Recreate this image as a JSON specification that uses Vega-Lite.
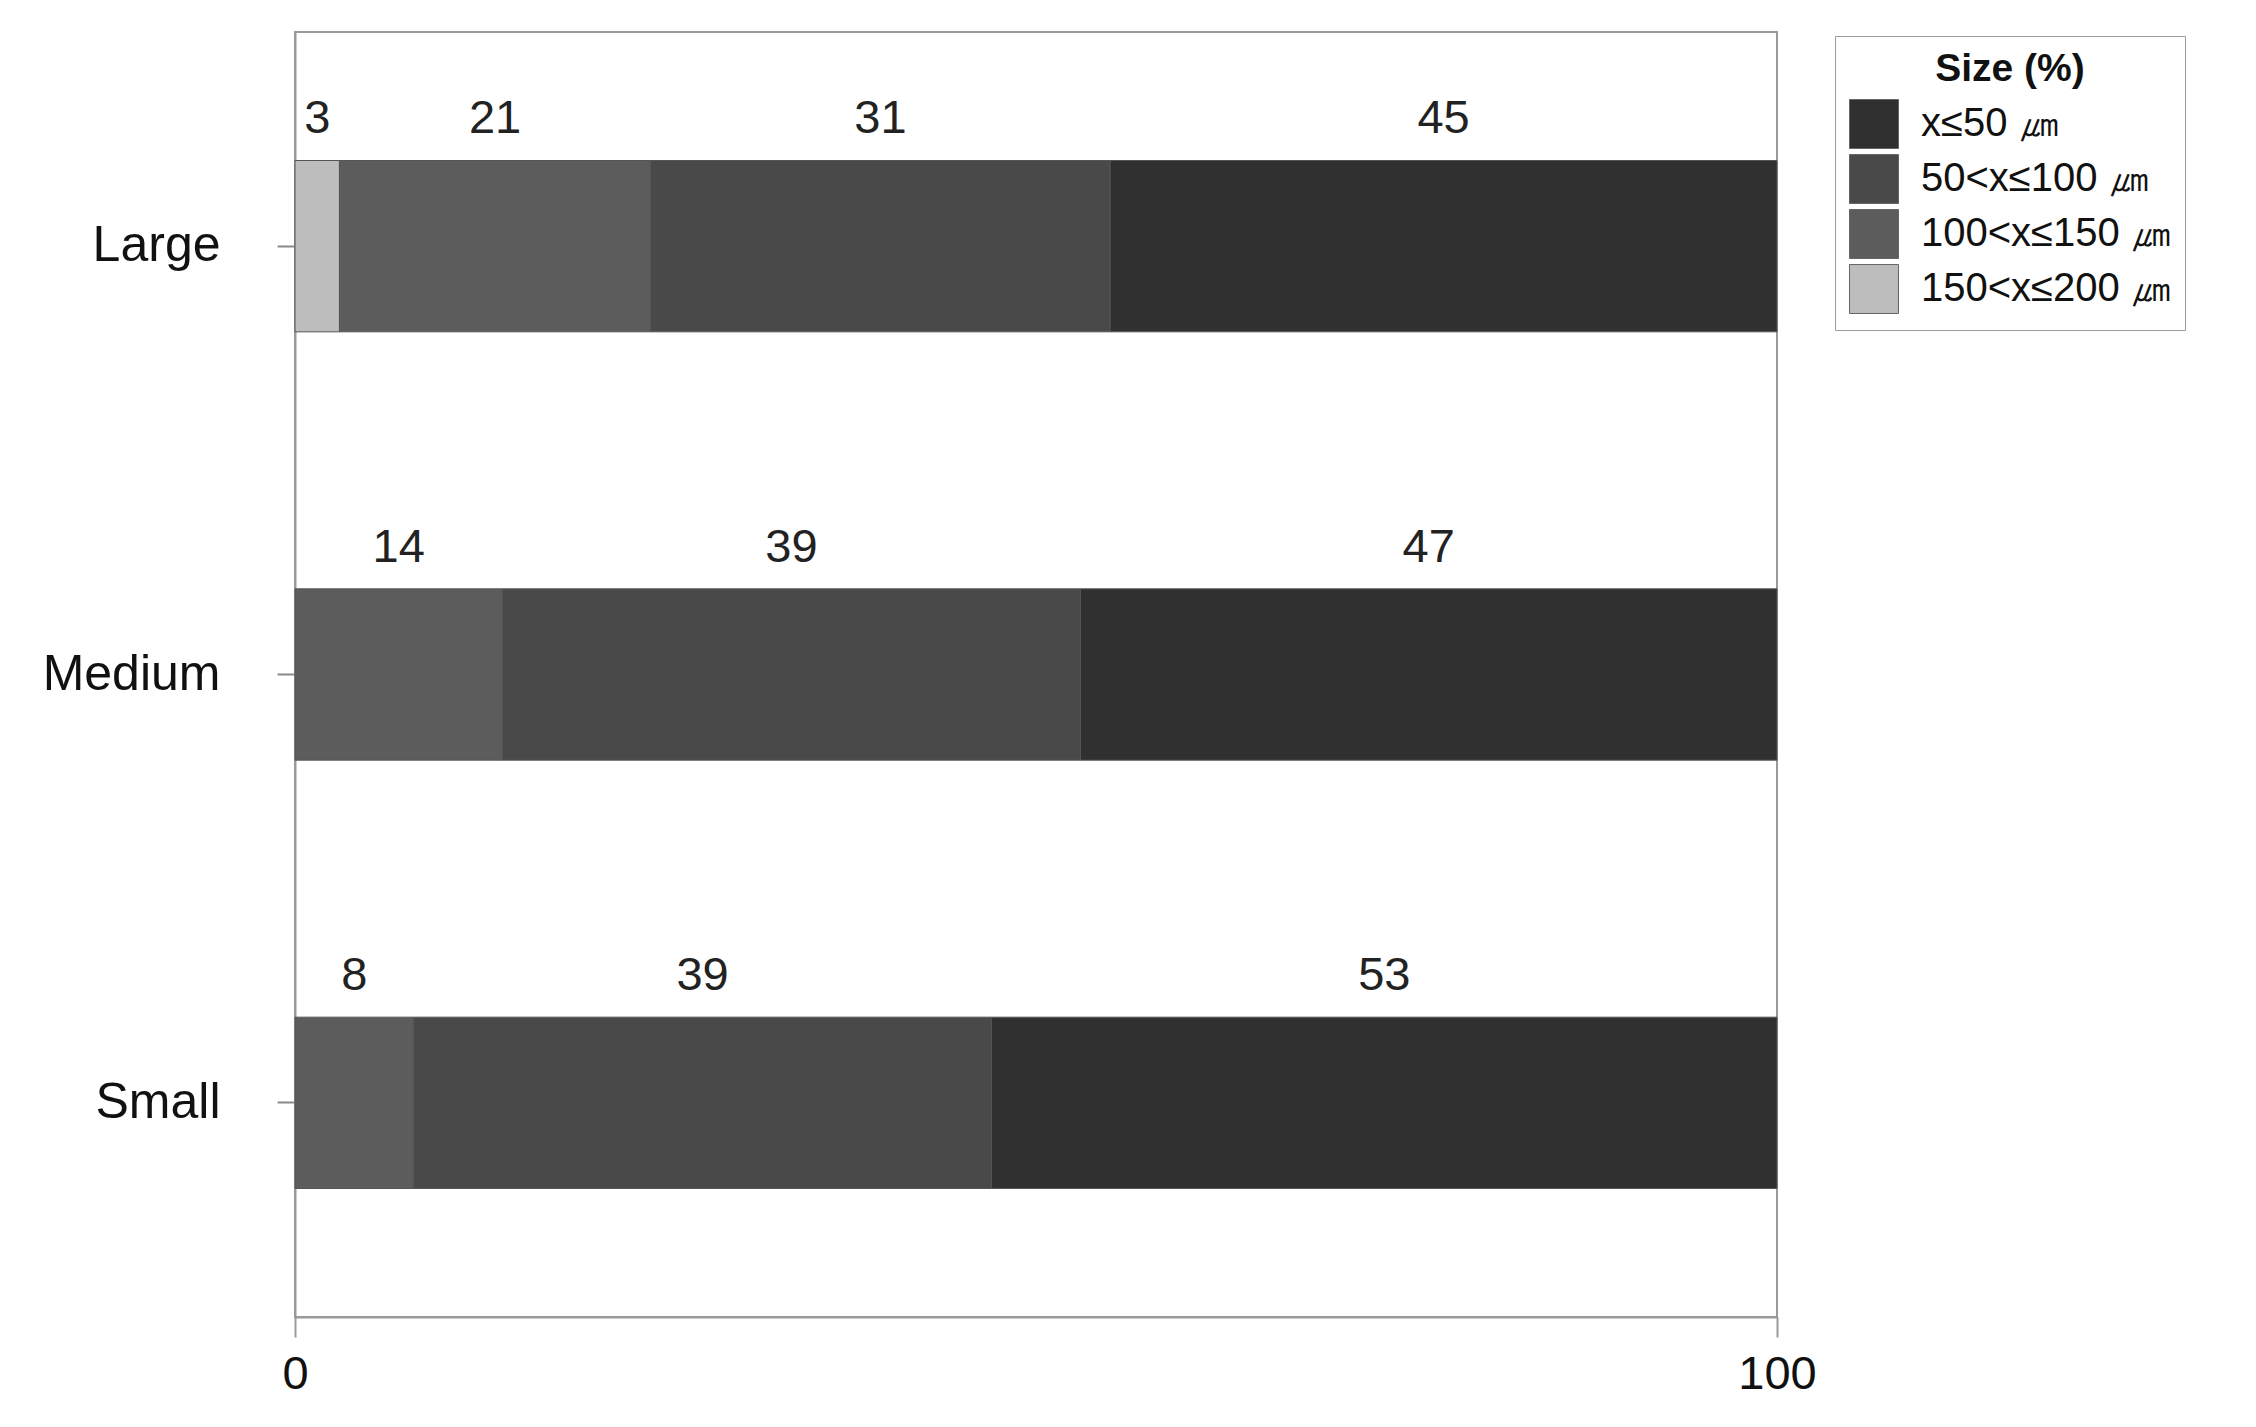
{
  "$schema": "https://vega.github.io/schema/vega-lite/v6.json",
  "width": 1482,
  "height": 1285,
  "autosize": {"type": "none"},
  "padding": {"left": 295, "top": 32, "right": 479, "bottom": 110},
  "background": "white",
  "config": {
    "font": "Liberation Sans",
    "view": {"stroke": "#9a9a9a", "strokeWidth": 2}
  },
  "data": {
    "values": [
      {"group": "Large", "cls": "150<x≤200 ㎛", "ord": 1, "pct": 3},
      {"group": "Large", "cls": "100<x≤150 ㎛", "ord": 2, "pct": 21},
      {"group": "Large", "cls": "50<x≤100 ㎛", "ord": 3, "pct": 31},
      {"group": "Large", "cls": "x≤50 ㎛", "ord": 4, "pct": 45},
      {"group": "Medium", "cls": "100<x≤150 ㎛", "ord": 2, "pct": 14},
      {"group": "Medium", "cls": "50<x≤100 ㎛", "ord": 3, "pct": 39},
      {"group": "Medium", "cls": "x≤50 ㎛", "ord": 4, "pct": 47},
      {"group": "Small", "cls": "100<x≤150 ㎛", "ord": 2, "pct": 8},
      {"group": "Small", "cls": "50<x≤100 ㎛", "ord": 3, "pct": 39},
      {"group": "Small", "cls": "x≤50 ㎛", "ord": 4, "pct": 53}
    ]
  },
  "transform": [
    {"window": [{"op": "sum", "field": "pct", "as": "p1"}], "groupby": ["group"], "sort": [{"field": "ord", "order": "ascending"}], "frame": [null, 0]},
    {"calculate": "datum.p1 - datum.pct", "as": "p0"},
    {"calculate": "datum.p1 - datum.pct * 0.5", "as": "pmid"}
  ],
  "encoding": {
    "y": {
      "field": "group",
      "type": "nominal",
      "scale": {"domain": ["Large", "Medium", "Small"], "paddingInner": 0.6, "paddingOuter": 0.3},
      "axis": {
        "title": null,
        "labelFontSize": 50,
        "labelColor": "#111",
        "labelPadding": 57,
        "tickSize": 18,
        "tickColor": "#888",
        "tickWidth": 2,
        "domainColor": "#9a9a9a",
        "domainWidth": 2
      }
    }
  },
  "layer": [
    {
      "mark": {"type": "bar", "stroke": "#555", "strokeWidth": 1},
      "encoding": {
        "x": {
          "field": "p0",
          "type": "quantitative",
          "scale": {"domain": [0, 100], "nice": false},
          "axis": {
            "title": null,
            "values": [0, 100],
            "grid": false,
            "labelFlush": false,
            "labelFontSize": 47,
            "labelColor": "#111",
            "labelPadding": 14,
            "tickSize": 20,
            "tickColor": "#9a9a9a",
            "tickWidth": 2,
            "domainColor": "#9a9a9a",
            "domainWidth": 2
          }
        },
        "x2": {"field": "p1"},
        "color": {
          "field": "cls",
          "type": "nominal",
          "scale": {
            "domain": ["x≤50 ㎛", "50<x≤100 ㎛", "100<x≤150 ㎛", "150<x≤200 ㎛"],
            "range": ["#303030", "#494949", "#5c5c5c", "#bdbdbd"]
          },
          "legend": {
            "title": "Size (%)",
            "orient": "none",
            "legendX": 1540,
            "legendY": 4,
            "titleFontSize": 39,
            "titleFontWeight": "bold",
            "titleColor": "#111",
            "titleAnchor": "middle",
            "titlePadding": 10,
            "labelFontSize": 40,
            "labelLimit": 0,
            "labelColor": "#111",
            "labelOffset": 22,
            "symbolType": "square",
            "symbolSize": 2400,
            "symbolStrokeColor": "#666",
            "symbolStrokeWidth": 1,
            "rowPadding": 1,
            "padding": 14,
            "strokeColor": "#9a9a9a",
            "fillColor": "white"
          }
        }
      }
    },
    {
      "mark": {"type": "text", "fontSize": 47, "color": "#222", "baseline": "alphabetic", "align": "center", "yOffset": -113},
      "encoding": {
        "x": {"field": "pmid", "type": "quantitative"},
        "text": {"field": "pct", "type": "quantitative"}
      }
    }
  ]
}
